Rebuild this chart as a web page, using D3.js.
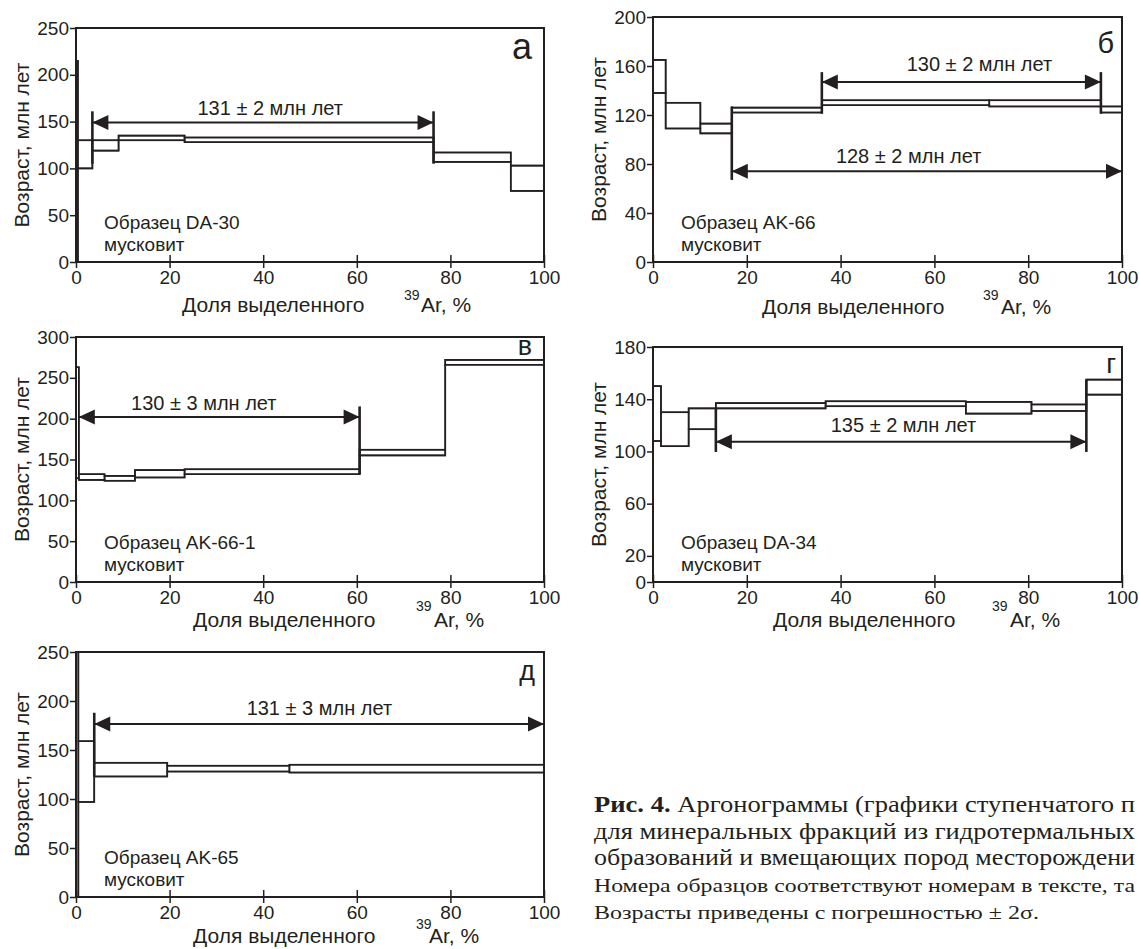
<!DOCTYPE html>
<html>
<head>
<meta charset="utf-8">
<script src="https://cdn.jsdelivr.net/npm/d3@7"></script>
<style>
body{margin:0;background:#fff;}
svg text{font-family:"Liberation Sans",Arial,sans-serif;fill:#231f20;}
</style>
</head>
<body>
<svg id="chart" width="1139" height="949"></svg>
<script>
// подписи панелей и образцов
var panelLetters = ["а", "б", "в", "г", "д"];
var sampleNames = ["Образец DA-30", "Образец AK-66", "Образец AK-66-1", "Образец DA-34", "Образец AK-65"];
var mineralName = "мусковит";
var yTitle = "Возраст, млн лет";

var yMaxes = [250, 200, 300, 180, 250];
var yTicks = [
    [0, 50, 100, 150, 200, 250],
    [0, 40, 80, 120, 160, 200],
    [0, 50, 100, 150, 200, 250, 300],
    [0, 20, 60, 100, 140, 180],
    [0, 50, 100, 150, 200, 250]
];
var xTicks = [0, 20, 40, 60, 80, 100];

// ступени: [от %, до %, возраст min, возраст max]
var stepsA = [[0, 0.4, 0, 215], [0.4, 3.5, 100, 130], [3.5, 9.1, 119, 130], [9.1, 23.2, 130, 135],
              [23.2, 76.4, 128, 133], [76.4, 92.9, 107, 117], [92.9, 100, 76, 103]];
var stepsB = [[0, 2.7, 138, 165], [2.7, 10.1, 109, 130], [10.1, 16.8, 105, 113], [16.8, 36.0, 122, 126],
              [36.0, 71.7, 128, 132], [71.7, 95.5, 127, 132], [95.5, 100, 122, 127]];
var stepsV = [[0, 0.6, 127, 263], [0.6, 6.1, 125, 132], [6.1, 12.6, 124, 130], [12.6, 23.2, 128, 137],
              [23.2, 60.6, 132, 138], [60.6, 78.9, 155, 162], [78.9, 100, 266, 272]];
var stepsG = [[0, 1.7, 108, 150], [1.7, 7.6, 104, 130], [7.6, 13.4, 117, 133], [13.4, 36.8, 133, 137],
              [36.8, 66.7, 134.6, 138.4], [66.7, 80.7, 129, 138], [80.7, 92.4, 131, 136], [92.4, 100, 143.5, 155]];
var stepsD = [[0, 0.5, 0, 250], [0.5, 3.9, 97, 159], [3.9, 19.5, 123, 137], [19.5, 45.6, 128, 134],
              [45.6, 100, 127, 135]];
var steps = [stepsA, stepsB, stepsV, stepsG, stepsD];

// плато: начало, конец, уровень стрелки, подпись (центр x, базовая линия), отметки [x, min, max]
var plateausA = [{from: 3.5, to: 76.4, at: 149, label: "131 ± 2 млн лет", lx: 41.5, ly: 157,
                  marks: [[3.5, 105, 161], [76.4, 105, 161]]}];
var plateausB = [{from: 36.0, to: 95.5, at: 147, label: "130 ± 2 млн лет", lx: 69.6, ly: 156,
                  marks: [[36.0, 121, 155], [95.5, 121, 155]]},
                 {from: 16.8, to: 100, at: 74, label: "128 ± 2 млн лет", lx: 54.5, ly: 81,
                  marks: [[16.8, 67, 127]]}];
var plateausV = [{from: 0.6, to: 60.6, at: 202, label: "130 ± 3 млн лет", lx: 27.3, ly: 211,
                  marks: [[60.6, 132, 215]]}];
var plateausG = [{from: 13.4, to: 92.4, at: 107.5, label: "135 ± 2 млн лет", lx: 53.4, ly: 115,
                  marks: [[13.4, 99.6, 133], [92.4, 99.6, 155]]}];
var plateausD = [{from: 3.9, to: 100, at: 176.5, label: "131 ± 3 млн лет", lx: 52, ly: 186,
                  marks: [[3.9, 123, 188]]}];
var plateaus = [plateausA, plateausB, plateausV, plateausG, plateausD];

// подпись к рисунку (видимая часть, как в оригинале)
var captionLines = [
    "Аргонограммы (графики ступенчатого п",
    "для минеральных фракций из гидротермальных",
    "образований и вмещающих пород месторождени",
    "Номера образцов соответствуют номерам в тексте, та",
    "Возрасты приведены с погрешностью ± 2σ."
];

// расположение панелей
var boxes = [
    {left: 76, right: 544, top: 28, bottom: 262, titleDy: 50, supX: 328, supDy: 38, arX: 345},
    {left: 653, right: 1122, top: 17, bottom: 262, titleDy: 52, supX: 330, supDy: 38, arX: 348},
    {left: 76, right: 544, top: 337, bottom: 582, titleDy: 45, supX: 340, supDy: 29, arX: 358},
    {left: 653, right: 1122, top: 347, bottom: 582, titleDy: 45, supX: 339, supDy: 29, arX: 357},
    {left: 76, right: 544, top: 652, bottom: 897, titleDy: 46, supX: 340, supDy: 32, arX: 353}
];
var titleStart = [106, 109, 117, 120, 117];
var letterPos = [[12, 31], [8, 36], [12, 18], [6, 26], [9, 28]];
var letterSize = [36, 29, 27, 27, 27];

var ink = "#231f20";
var svg = d3.select("#chart");

function drawPanel(i){
    var box = boxes[i];
    var x = d3.scaleLinear().domain([0, 100]).range([box.left, box.right]);
    var y = d3.scaleLinear().domain([0, yMaxes[i]]).range([box.bottom, box.top]);
    var g = svg.append("g").attr("class", "panel");
    var data = steps[i];

    // ступени (прямоугольники погрешностей)
    g.selectAll("rect.step")
        .data(data)
        .enter().append("rect")
        .attr("class", "step")
        .attr("x", function(d){ return x(d[0]); })
        .attr("width", function(d){ return x(d[1]) - x(d[0]); })
        .attr("y", function(d){ return y(d[3]); })
        .attr("height", function(d){ return y(d[2]) - y(d[3]); })
        .style("fill", "none")
        .style("stroke", ink)
        .style("stroke-width", 1.6);

    // верхняя и нижняя ступенчатые линии
    [3, 2].forEach(function(k){
        var pts = data.map(function(d){ return [d[0], d[k]]; });
        pts.push([data[data.length - 1][1], data[data.length - 1][k]]);
        g.append("path")
            .attr("d", d3.line()
                .x(function(p){ return x(p[0]); })
                .y(function(p){ return y(p[1]); })
                .curve(d3.curveStepAfter)(pts))
            .style("fill", "none")
            .style("stroke", ink)
            .style("stroke-width", 1.6);
    });

    // оси
    var ya = g.append("g")
        .attr("transform", "translate(" + box.left + ",0)")
        .call(d3.axisLeft(y).tickValues(yTicks[i]).tickSize(6).tickPadding(1));
    var xa = g.append("g")
        .attr("transform", "translate(0," + box.bottom + ")")
        .call(d3.axisBottom(x).tickValues(xTicks).tickSize(6).tickPadding(3));
    xa.selectAll(".tick").append("line").attr("y2", -7);
    [ya, xa].forEach(function(a){
        a.select(".domain").remove();
        a.selectAll("line").style("stroke", ink).style("stroke-width", 1.5);
        a.selectAll("text").style("font-size", "19px").style("fill", ink)
            .style("font-family", "'Liberation Sans', Arial, sans-serif");
    });

    // рамка
    g.append("rect")
        .attr("x", box.left).attr("y", box.top)
        .attr("width", box.right - box.left).attr("height", box.bottom - box.top)
        .style("fill", "none").style("stroke", ink).style("stroke-width", 2);

    // плато
    plateaus[i].forEach(function(p){
        var yy = y(p.at);
        g.append("line")
            .attr("x1", x(p.from)).attr("x2", x(p.to))
            .attr("y1", yy).attr("y2", yy)
            .style("stroke", ink).style("stroke-width", 2);
        [[p.from, 1], [p.to, -1]].forEach(function(e){
            var tx = x(e[0]);
            var pts = [[tx, yy], [tx + e[1] * 16, yy - 7.5], [tx + e[1] * 16, yy + 7.5]];
            g.append("path")
                .attr("d", "M" + pts.join("L") + "Z")
                .style("fill", ink);
        });
        p.marks.forEach(function(m){
            g.append("line")
                .attr("x1", x(m[0])).attr("x2", x(m[0]))
                .attr("y1", y(m[1])).attr("y2", y(m[2]))
                .style("stroke", ink).style("stroke-width", 2.6);
        });
        g.append("text")
            .attr("x", x(p.lx)).attr("y", y(p.ly))
            .attr("text-anchor", "middle")
            .style("font-size", "20px")
            .text(p.label);
    });

    // образец
    g.append("text")
        .attr("x", box.left + 28).attr("y", box.bottom - 33)
        .style("font-size", "19px")
        .text(sampleNames[i]);
    g.append("text")
        .attr("x", box.left + 28).attr("y", box.bottom - 11)
        .style("font-size", "19px")
        .text(mineralName);

    // буква панели
    g.append("text")
        .attr("x", box.right - letterPos[i][0]).attr("y", box.top + letterPos[i][1])
        .attr("text-anchor", "end")
        .style("font-size", letterSize[i] + "px")
        .text(panelLetters[i]);

    // подписи осей
    g.append("text")
        .attr("transform", "translate(" + (box.left - 47) + "," + ((box.top + box.bottom) / 2) + ") rotate(-90)")
        .attr("text-anchor", "middle")
        .style("font-size", "21px")
        .text(yTitle);
    g.append("text")
        .attr("x", box.left + titleStart[i]).attr("y", box.bottom + box.titleDy)
        .style("font-size", "21px")
        .text("Доля выделенного");
    g.append("text")
        .attr("x", box.left + box.supX).attr("y", box.bottom + box.supDy)
        .style("font-size", "14px")
        .text("39");
    g.append("text")
        .attr("x", box.left + box.arX).attr("y", box.bottom + box.titleDy)
        .style("font-size", "21px")
        .text("Ar, %");
}

for (var i = 0; i < 5; i++) drawPanel(i);

// подпись к рисунку
var cap = svg.append("g");
var capY = [812, 839, 865, 892, 919];
var capSize = [23, 23, 23, 19.5, 19.5];
var capWidth = [541, 541, 541, 541, 445];
captionLines.forEach(function(line, k){
    var t = cap.append("text")
        .attr("x", 594).attr("y", capY[k])
        .attr("textLength", capWidth[k])
        .attr("lengthAdjust", "spacingAndGlyphs")
        .style("font-family", "'Liberation Serif', 'Times New Roman', serif")
        .style("font-size", capSize[k] + "px");
    if (k === 0) {
        t.append("tspan").style("font-weight", "bold").text("Рис. 4.");
        t.append("tspan").text(" " + line);
    } else {
        t.text(line);
    }
});
</script>
</body>
</html>
